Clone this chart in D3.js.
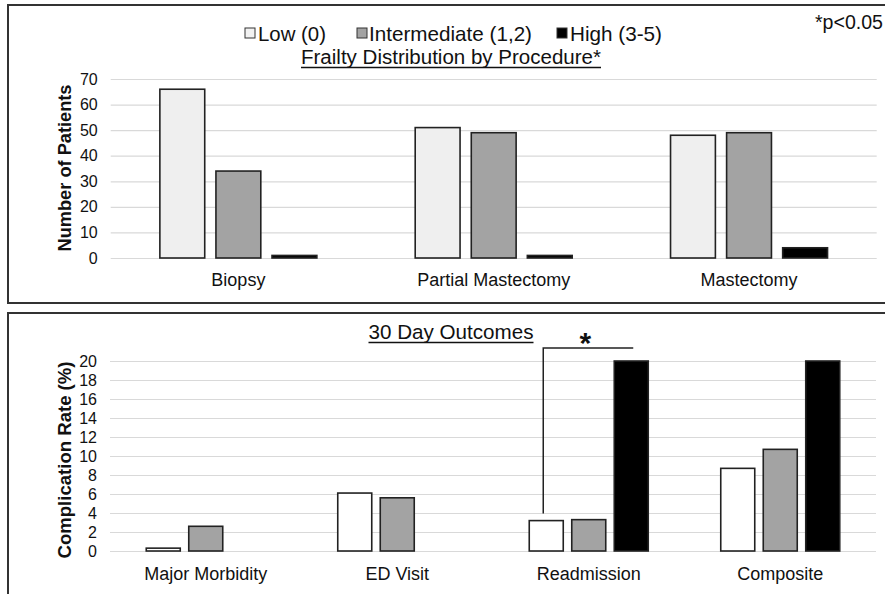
<!DOCTYPE html>
<html>
<head>
<meta charset="utf-8">
<script src="https://cdn.jsdelivr.net/npm/d3@7/dist/d3.min.js"></script>
<style>
  html, body { margin: 0; padding: 0; background: #fff; }
  svg { display: block; font-family: "Liberation Sans", Arial, sans-serif; }
</style>
</head>
<body>
<svg id="chart" width="885" height="594"></svg>
<script>
// ---------- Data ----------
const frailtyLevels = ["Low (0)", "Intermediate (1,2)", "High (3-5)"];

const procedures = ["Biopsy", "Partial Mastectomy", "Mastectomy"];
const procLow = [66, 51, 48];
const procIntermediate = [34, 49, 49];
const procHigh = [1, 1, 4];
const procTicks = [0, 10, 20, 30, 40, 50, 60, 70];

const outcomes = ["Major Morbidity", "ED Visit", "Readmission", "Composite"];
const outLow = [0.3, 6.1, 3.2, 8.7];
const outIntermediate = [2.6, 5.6, 3.3, 10.7];
const outHigh = [0, 0, 20, 20];
const outTicks = [0, 2, 4, 6, 8, 10, 12, 14, 16, 18, 20];

const topTitle = "Frailty Distribution by Procedure*";
const bottomTitle = "30 Day Outcomes";
const topYTitle = "Number of Patients";
const bottomYTitle = "Complication Rate (%)";
const sigNote = "*p<0.05";

// ---------- Setup ----------
const svg = d3.select("#chart");
const FONT = '"Liberation Sans", Arial, sans-serif';
const gridColor = "#d9d9d9";
const barStroke = "#222";

// Panels
svg.append("rect").attr("x", 8).attr("y", 5).attr("width", 900).attr("height", 298)
  .attr("fill", "none").attr("stroke", "#333").attr("stroke-width", 2);
svg.append("rect").attr("x", 8).attr("y", 313).attr("width", 900).attr("height", 300)
  .attr("fill", "none").attr("stroke", "#333").attr("stroke-width", 2);

function drawPanel(opts) {
  const { cats, series, fills, ticks, yDomain, yRange, xRange, groupWidth, yTitle, yTitleY, labelY, yTitleLen } = opts;
  const y = d3.scaleLinear().domain(yDomain).range(yRange);
  const x0 = d3.scaleBand().domain(cats).range(xRange).paddingInner(0).paddingOuter(0);
  const x1 = d3.scaleBand().domain(frailtyLevels).range([0, groupWidth]).paddingInner(0.2).paddingOuter(0);
  const off = (x0.bandwidth() - groupWidth) / 2;

  // gridlines + tick labels
  const yAxis = d3.axisLeft(y).tickValues(ticks).tickSize(-(xRange[1] - xRange[0])).tickPadding(13);
  const ga = svg.append("g").attr("transform", `translate(${xRange[0]},0)`).call(yAxis);
  ga.select(".domain").remove();
  ga.selectAll(".tick line").attr("stroke", gridColor).attr("stroke-width", 1.2);
  ga.selectAll(".tick text").attr("font-family", FONT).attr("font-size", 16).attr("fill", "#111");

  // bars
  const rows = [];
  cats.forEach((c, i) => {
    series.forEach((s, j) => {
      rows.push({ cat: c, level: frailtyLevels[j], value: s[i], fill: fills[j] });
    });
  });
  svg.append("g").selectAll("rect").data(rows.filter(d => d.value > 0)).join("rect")
    .attr("x", d => x0(d.cat) + off + x1(d.level))
    .attr("y", d => y(d.value))
    .attr("width", x1.bandwidth())
    .attr("height", d => y(0) - y(d.value))
    .attr("fill", d => d.fill)
    .attr("stroke", barStroke)
    .attr("stroke-width", 1.6);

  // category labels
  const xAxis = d3.axisBottom(x0).tickSize(0).tickPadding(0);
  const gx = svg.append("g").attr("transform", `translate(0,${labelY})`).call(xAxis);
  gx.select(".domain").remove();
  gx.selectAll(".tick text").attr("font-family", FONT).attr("font-size", 18).attr("fill", "#111")
    .attr("dy", 0).attr("y", 0);

  // y title
  svg.append("text")
    .attr("transform", `translate(71,${yTitleY}) rotate(-90)`)
    .attr("text-anchor", "middle")
    .attr("font-family", FONT).attr("font-weight", "bold").attr("font-size", 18.5)
    .attr("fill", "#111")
    .attr("textLength", yTitleLen).attr("lengthAdjust", "spacingAndGlyphs")
    .text(yTitle);

  return { x0, x1, y, off };
}

// ---------- Top panel ----------
drawPanel({
  cats: procedures,
  series: [procLow, procIntermediate, procHigh],
  fills: ["#efefef", "#a3a3a3", "#000"],
  ticks: procTicks,
  yDomain: [0, 70], yRange: [258, 79],
  xRange: [110.7, 876.7],
  groupWidth: 157,
  yTitle: topYTitle, yTitleY: 168, labelY: 286, yTitleLen: 167
});

// ---------- Bottom panel ----------
const bot = drawPanel({
  cats: outcomes,
  series: [outLow, outIntermediate, outHigh],
  fills: ["#fff", "#a3a3a3", "#000"],
  ticks: outTicks,
  yDomain: [0, 20], yRange: [551, 361],
  xRange: [110, 876],
  groupWidth: 119,
  yTitle: bottomYTitle, yTitleY: 460, labelY: 580, yTitleLen: 197
});

// ---------- Legend ----------
const legendItems = [
  { sx: 245, tx: 258, len: 68, fill: "#f2f2f2" },
  { sx: 357, tx: 369, len: 163, fill: "#a3a3a3" },
  { sx: 557, tx: 570, len: 92, fill: "#000" }
];
legendItems.forEach((it, i) => {
  svg.append("rect").attr("x", it.sx).attr("y", 28).attr("width", 10).attr("height", 10)
    .attr("fill", it.fill).attr("stroke", "#333").attr("stroke-width", 1);
  svg.append("text").attr("x", it.tx).attr("y", 41)
    .attr("font-family", FONT).attr("font-size", 21).attr("fill", "#111")
    .attr("textLength", it.len).attr("lengthAdjust", "spacingAndGlyphs")
    .text(frailtyLevels[i]);
});

svg.append("text").attr("x", 815).attr("y", 29)
  .attr("font-family", FONT).attr("font-size", 20).attr("fill", "#111")
  .attr("textLength", 68).attr("lengthAdjust", "spacingAndGlyphs")
  .text(sigNote);

// ---------- Underlined titles ----------
function underlinedTitle(txt, cx, baseline, size, len) {
  const t = svg.append("text").attr("x", cx).attr("y", baseline).attr("text-anchor", "middle")
    .attr("font-family", FONT).attr("font-size", size).attr("fill", "#111")
    .attr("textLength", len).attr("lengthAdjust", "spacingAndGlyphs").text(txt);
  svg.append("line").attr("x1", cx - len / 2).attr("x2", cx + len / 2)
    .attr("y1", baseline + 3.5).attr("y2", baseline + 3.5)
    .attr("stroke", "#111").attr("stroke-width", 1.3);
}
underlinedTitle(topTitle, 451, 64, 20, 300);
underlinedTitle(bottomTitle, 451, 339, 20.5, 165);

// ---------- Significance bracket ----------
const rCat = "Readmission";
const rIdx = outcomes.indexOf(rCat);
const xLowC = bot.x0(rCat) + bot.off + bot.x1(frailtyLevels[0]) + bot.x1.bandwidth() / 2 - 3;
const xHighC = bot.x0(rCat) + bot.off + bot.x1(frailtyLevels[2]) + bot.x1.bandwidth() / 2 + 2;
const yBottom = bot.y(outLow[rIdx]) - 7;
const yTop = bot.y(d3.max([outLow[rIdx], outIntermediate[rIdx], outHigh[rIdx]])) - 13;
svg.append("path")
  .attr("d", `M${xLowC},${yBottom}V${yTop}H${xHighC}`)
  .attr("fill", "none").attr("stroke", "#222").attr("stroke-width", 1.5);
svg.append("text").attr("x", (xLowC + xHighC) / 2 - 3).attr("y", yTop + 5)
  .attr("text-anchor", "middle")
  .attr("font-family", FONT).attr("font-weight", "bold").attr("font-size", 30).attr("fill", "#111")
  .text("*");
</script>
</body>
</html>
